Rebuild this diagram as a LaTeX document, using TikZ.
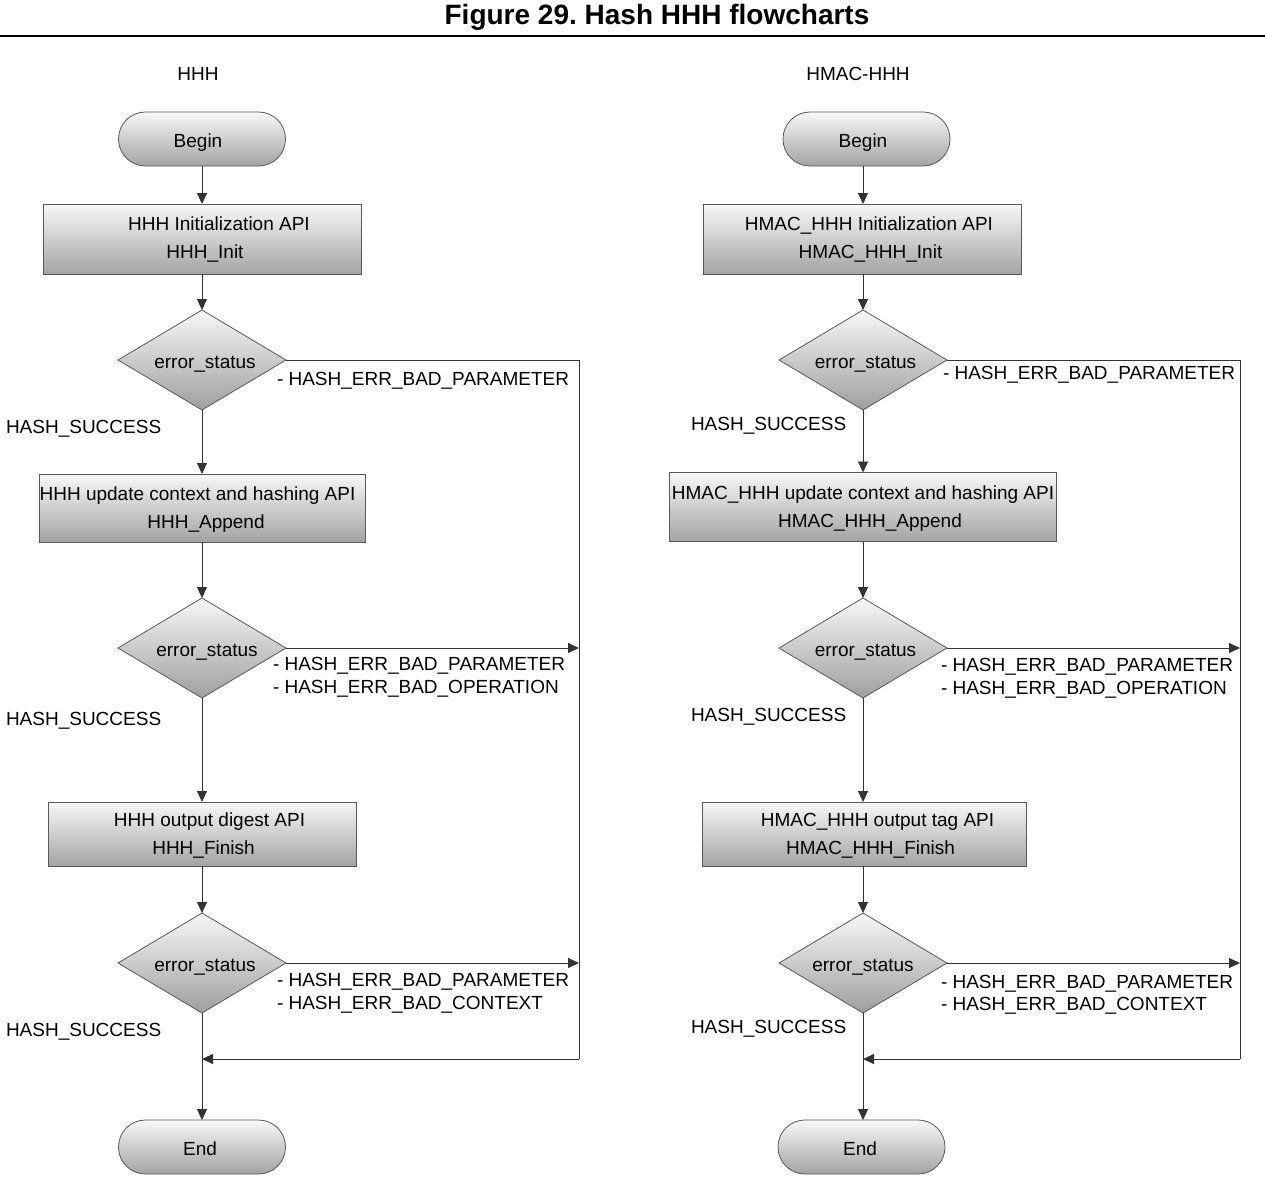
\documentclass[tikz,border=0pt]{standalone}
\usepackage{fontspec}
\setmainfont{Liberation Sans}
\usetikzlibrary{shapes.geometric,arrows.meta}
\frenchspacing
\newcommand\lsh[1]{\hspace*{#1}}
\begin{document}
\begin{tikzpicture}[x=1pt,y=-1pt,
  every node/.style={font=\fontsize{19}{28}\selectfont, inner sep=0pt, outer sep=0pt},
  term/.style={draw=black!65, line width=0.8pt, rounded corners=26.9pt, minimum width=167pt, minimum height=54pt, top color=black!3, bottom color=black!36, text height=16pt, text depth=0pt},
  proc/.style={draw=black!65, line width=0.8pt, minimum height=70pt, align=center, top color=black!3, bottom color=black!36},
  low/.style={text depth=-2pt},
  dec/.style={diamond, shape aspect=1.68, draw=black!65, line width=0.8pt, minimum width=168pt, minimum height=100pt, top color=black!3, bottom color=black!38, text height=16pt, text depth=0pt},
  lbl/.style={anchor=base west},
  flow/.style={draw=black!80, line width=0.9pt, -{Triangle[length=11pt,width=10pt]}},
  wire/.style={draw=black!80, line width=0.9pt},
]
\useasboundingbox (0,0) rectangle (1265,1195);
\fill[white] (0,0) rectangle (1265,1195);

% title
\node[font=\fontsize{28}{32}\selectfont\bfseries] (title) at (657,17) {Figure 29. Hash HHH flowcharts};
\coordinate (rl) at (0,36);
\coordinate (rr) at (1265,36);
\draw[line width=1.2pt] (rl) -- (rr);

\node (h1) at (198,74) {HHH};
\node (h2) at (858,74) {HMAC-HHH};

% ---------------- left column
\node[term] (b1) at (202,139) {\lsh{-8pt}Begin};
\node[proc, minimum width=318pt] (p11) at (202,239) {\lsh{34pt}HHH Initialization API\\\lsh{6pt}HHH\_Init};
\node[dec] (d11) at (202,360) {\lsh{6pt}error\_status};
\node[proc, low, minimum width=326pt, minimum height=68pt] (p12) at (202,508) {\lsh{-9pt}HHH update context and hashing API\\\lsh{8pt}HHH\_Append};
\node[dec] (d12) at (202,648) {\lsh{10pt}error\_status};
\node[proc, low, minimum width=308pt, minimum height=64pt] (p13) at (202,834) {\lsh{15pt}HHH output digest API\\\lsh{3pt}HHH\_Finish};
\node[dec] (d13) at (202,963) {\lsh{6pt}error\_status};
\node[term] (e1) at (202,1147) {\lsh{-4pt}End};
\coordinate (m1) at (202,1059);
\coordinate (r11) at (579,360);
\coordinate (r12) at (579,648);
\coordinate (r13) at (579,963);
\coordinate (r14) at (579,1059);

\draw[flow] (b1) -- (p11);
\draw[flow] (p11) -- (d11);
\draw[flow] (d11) -- (p12);
\draw[flow] (p12) -- (d12);
\draw[flow] (d12) -- (p13);
\draw[flow] (p13) -- (d13);
\draw[flow] (d13) -- (e1);
\draw[wire] (d11.east) -- (r11) -- (r14);
\draw[flow] (r14) -- (m1);
\draw[flow] (d12.east) -- (r12);
\draw[flow] (d13.east) -- (r13);

\node[lbl] (l11) at (277,385) {- HASH\_ERR\_BAD\_PARAMETER};
\node[lbl] (l12) at (273,670) {- HASH\_ERR\_BAD\_PARAMETER};
\node[lbl] (l13) at (273,693) {- HASH\_ERR\_BAD\_OPERATION};
\node[lbl] (l14) at (277,986) {- HASH\_ERR\_BAD\_PARAMETER};
\node[lbl] (l15) at (277,1009) {- HASH\_ERR\_BAD\_CONTEXT};
\node[lbl] (s11) at (6,433) {HASH\_SUCCESS};
\node[lbl] (s12) at (6,725) {HASH\_SUCCESS};
\node[lbl] (s13) at (6,1036) {HASH\_SUCCESS};

% ---------------- right column
\node[term] (b2) at (866.5,139) {\lsh{-7pt}Begin};
\node[proc, minimum width=318pt] (p21) at (862,239) {\lsh{14pt}HMAC\_HHH Initialization API\\\lsh{17pt}HMAC\_HHH\_Init};
\node[dec] (d21) at (863,360) {\lsh{5pt}error\_status};
\node[proc, low, minimum width=387pt, minimum height=69pt] (p22) at (863,507) {HMAC\_HHH update context and hashing API\\\lsh{14pt}HMAC\_HHH\_Append};
\node[dec] (d22) at (863,648) {\lsh{5pt}error\_status};
\node[proc, low, minimum width=324pt, minimum height=64pt] (p23) at (864,834) {\lsh{27pt}HMAC\_HHH output tag API\\\lsh{13pt}HMAC\_HHH\_Finish};
\node[dec] (d23) at (863,963) {error\_status};
\node[term] (e2) at (861.5,1147) {\lsh{-3pt}End};
\coordinate (m2) at (863,1059);
\coordinate (r21) at (1240,360);
\coordinate (r22) at (1240,648);
\coordinate (r23) at (1240,963);
\coordinate (r24) at (1240,1059);

\draw[flow] (b2.south -| d21) -- (p21.north -| d21);
\draw[flow] (p21.south -| d21) -- (d21);
\draw[flow] (d21) -- (p22.north -| d21);
\draw[flow] (p22.south -| d21) -- (d22);
\draw[flow] (d22) -- (p23.north -| d22);
\draw[flow] (p23.south -| d22) -- (d23);
\draw[flow] (d23) -- (e2.north -| d23);
\draw[wire] (d21.east) -- (r21) -- (r24);
\draw[flow] (r24) -- (m2);
\draw[flow] (d22.east) -- (r22);
\draw[flow] (d23.east) -- (r23);

\node[lbl] (l21) at (943,379) {- HASH\_ERR\_BAD\_PARAMETER};
\node[lbl] (l22) at (941,671) {- HASH\_ERR\_BAD\_PARAMETER};
\node[lbl] (l23) at (941,694) {- HASH\_ERR\_BAD\_OPERATION};
\node[lbl] (l24) at (941,988) {- HASH\_ERR\_BAD\_PARAMETER};
\node[lbl] (l25) at (941,1010) {- HASH\_ERR\_BAD\_CONTEXT};
\node[lbl] (s21) at (691,430) {HASH\_SUCCESS};
\node[lbl] (s22) at (691,721) {HASH\_SUCCESS};
\node[lbl] (s23) at (691,1033) {HASH\_SUCCESS};
\end{tikzpicture}
\end{document}
